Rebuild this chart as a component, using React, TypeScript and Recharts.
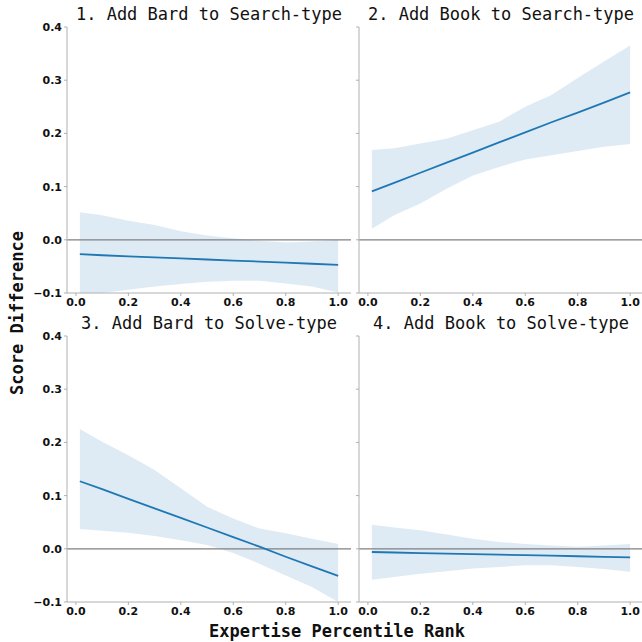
import React from "react";
import {
  ComposedChart,
  Area,
  Line,
  XAxis,
  YAxis,
  ReferenceLine,
} from "recharts";

// x positions (expertise percentile rank)
const xs = [0.015, 0.1, 0.2, 0.3, 0.4, 0.5, 0.6, 0.7, 0.8, 0.9, 1.0];

// 1. Add Bard to Search-type
const p1Line = [-0.027, -0.029, -0.031, -0.033, -0.035, -0.037, -0.039, -0.041, -0.043, -0.045, -0.047];
const p1Low = [-0.1, -0.1, -0.094, -0.088, -0.083, -0.079, -0.077, -0.077, -0.082, -0.088, -0.099];
const p1High = [0.052, 0.046, 0.036, 0.028, 0.016, 0.008, 0.003, -0.002, -0.005, -0.003, 0.0];

// 2. Add Book to Search-type
const p2Line = [0.091, 0.107, 0.126, 0.145, 0.164, 0.183, 0.202, 0.221, 0.239, 0.258, 0.277];
const p2Low = [0.021, 0.046, 0.068, 0.096, 0.121, 0.137, 0.151, 0.159, 0.167, 0.175, 0.18];
const p2High = [0.169, 0.172, 0.181, 0.19, 0.206, 0.222, 0.25, 0.272, 0.304, 0.335, 0.365];

// 3. Add Bard to Solve-type
const p3Line = [0.127, 0.112, 0.094, 0.076, 0.058, 0.04, 0.022, 0.004, -0.015, -0.033, -0.051];
const p3Low = [0.037, 0.034, 0.03, 0.024, 0.016, 0.007, -0.008, -0.028, -0.05, -0.072, -0.1];
const p3High = [0.225, 0.201, 0.176, 0.148, 0.114, 0.079, 0.057, 0.038, 0.029, 0.019, 0.009];

// 4. Add Book to Solve-type
const p4Line = [-0.006, -0.007, -0.008, -0.009, -0.01, -0.011, -0.012, -0.013, -0.014, -0.015, -0.016];
const p4Low = [-0.058, -0.053, -0.047, -0.042, -0.037, -0.034, -0.031, -0.031, -0.034, -0.038, -0.043];
const p4High = [0.045, 0.04, 0.035, 0.027, 0.019, 0.013, 0.009, 0.006, 0.004, 0.006, 0.009];

const xTicks = [0, 0.2, 0.4, 0.6, 0.8, 1.0];
const yTicks = [-0.1, 0, 0.1, 0.2, 0.3, 0.4];

const BLUE = "#1f77b4";
const SPINE = "#b0b0b0";
const MONO = "'DejaVu Sans Mono', monospace";
const SANS = "'DejaVu Sans', sans-serif";

const fmt = (v: number) => {
  const s = Math.abs(v).toFixed(1);
  return v < 0 ? "\u2212" + s : s;
};

type PanelProps = {
  title: string;
  line: number[];
  low: number[];
  high: number[];
  left: number;
  top: number;
  showYLabels: boolean;
};

const Panel = ({ title, line, low, high, left, top, showYLabels }: PanelProps) => {
  const data = xs.map((x, i) => ({ x, y: line[i], band: [low[i], high[i]] }));
  const yw = showYLabels ? 67 : 8;
  const width = showYLabels ? 360 : 292;
  const plotLeft = left + yw;
  const plotRight = left + width - (showYLabels ? 9 : 0);
  const tickStyle = { fill: "#111", fontSize: 11, fontWeight: 700, fontFamily: SANS };

  return (
    <div style={{ position: "absolute", left, top }}>
      <div
        style={{
          position: "absolute",
          left: plotLeft - left,
          width: plotRight - plotLeft,
          top: 4,
          textAlign: "center",
          fontFamily: MONO,
          fontSize: 17,
          color: "#111",
          whiteSpace: "nowrap",
          lineHeight: "20px",
        }}
      >
        {title}
      </div>
      <ComposedChart
        width={width}
        height={310}
        data={data}
        margin={{ top: 27, right: showYLabels ? 9 : 0, bottom: 0, left: 0 }}
      >
        <XAxis
          dataKey="x"
          type="number"
          domain={[-0.034, 1.049]}
          ticks={xTicks}
          tickFormatter={fmt}
          height={17}
          tickSize={3}
          tickMargin={2}
          tick={tickStyle}
          axisLine={{ stroke: SPINE }}
          tickLine={{ stroke: SPINE }}
          allowDataOverflow
        />
        <XAxis
          xAxisId="top"
          orientation="top"
          dataKey="x"
          type="number"
          domain={[-0.034, 1.049]}
          height={0}
          tick={false}
          tickLine={false}
          axisLine={{ stroke: SPINE }}
        />
        <YAxis
          type="number"
          domain={[-0.1, 0.4]}
          ticks={yTicks}
          tickFormatter={showYLabels ? fmt : () => ""}
          width={yw}
          tickSize={3}
          tickMargin={2}
          tick={tickStyle}
          axisLine={{ stroke: SPINE }}
          tickLine={{ stroke: SPINE }}
          allowDataOverflow
        />
        <YAxis
          yAxisId="right"
          orientation="right"
          type="number"
          domain={[-0.1, 0.4]}
          width={0}
          tick={false}
          tickLine={false}
          axisLine={{ stroke: SPINE }}
        />
        <Area
          dataKey="band"
          type="linear"
          fill={BLUE}
          fillOpacity={0.15}
          stroke="none"
          isAnimationActive={false}
          activeDot={false}
        />
        <ReferenceLine y={0} stroke="#808080" strokeWidth={1.2} />
        <Line
          dataKey="y"
          type="linear"
          stroke={BLUE}
          strokeWidth={1.8}
          dot={false}
          activeDot={false}
          isAnimationActive={false}
        />
      </ComposedChart>
    </div>
  );
};

export default function App() {
  return (
    <div
      style={{
        position: "absolute",
        left: 0,
        top: 0,
        width: 642,
        height: 642,
        overflow: "hidden",
        background: "#fff",
      }}
    >
      <Panel title="1. Add Bard to Search-type" line={p1Line} low={p1Low} high={p1High} left={0} top={0} showYLabels />
      <Panel title="2. Add Book to Search-type" line={p2Line} low={p2Low} high={p2High} left={351} top={0} showYLabels={false} />
      <Panel title="3. Add Bard to Solve-type" line={p3Line} low={p3Low} high={p3High} left={0} top={309} showYLabels />
      <Panel title="4. Add Book to Solve-type" line={p4Line} low={p4Low} high={p4High} left={351} top={309} showYLabels={false} />
      <div
        style={{
          position: "absolute",
          left: 0,
          width: 674,
          top: 620,
          textAlign: "center",
          fontFamily: MONO,
          fontWeight: 700,
          fontSize: 17,
          color: "#111",
          lineHeight: "22px",
        }}
      >
        Expertise Percentile Rank
      </div>
      <div
        style={{
          position: "absolute",
          left: 17,
          top: 313,
          transform: "translate(-50%, -50%) rotate(-90deg)",
          fontFamily: MONO,
          fontWeight: 700,
          fontSize: 17,
          color: "#111",
          whiteSpace: "nowrap",
          lineHeight: "22px",
        }}
      >
        Score Difference
      </div>
    </div>
  );
}
